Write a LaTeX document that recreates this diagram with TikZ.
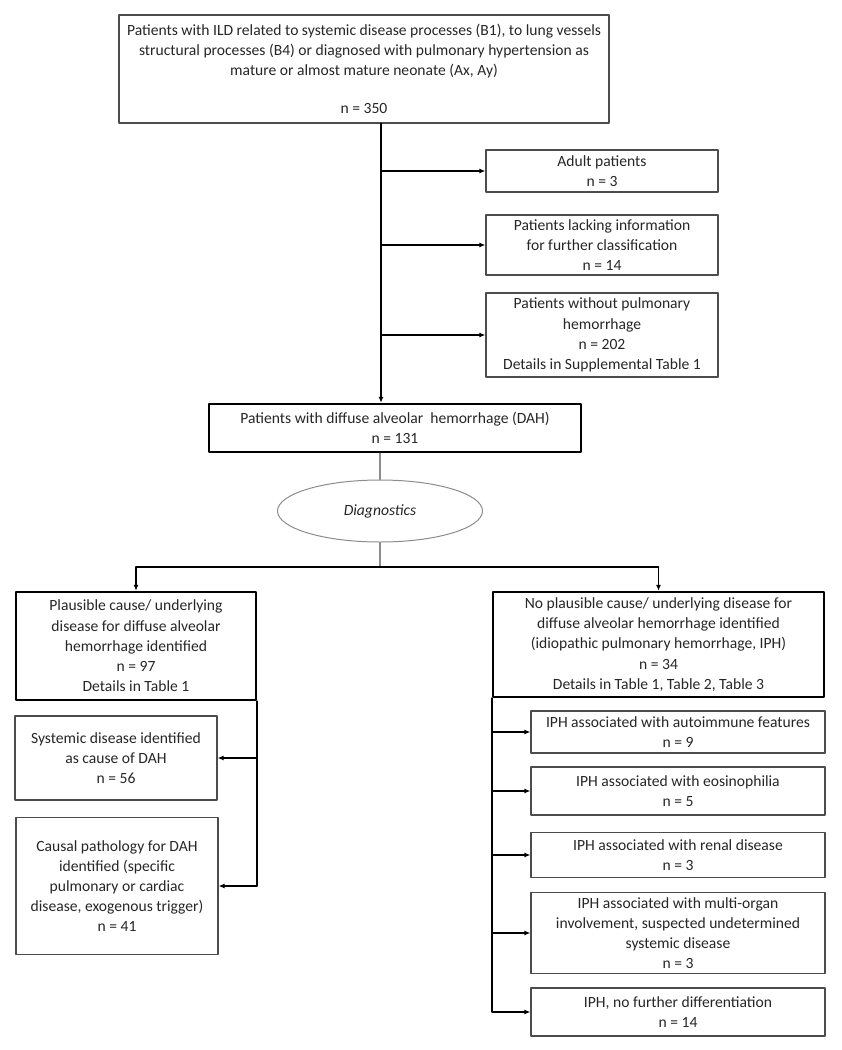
\documentclass[tikz,border=0pt]{standalone}
\usepackage{fontspec}
\setmainfont{Carlito}
\usepackage{tikz}
\usetikzlibrary{arrows.meta}
\usetikzlibrary{shapes.geometric}

\begin{document}
\begin{tikzpicture}[line cap=round,line join=round,x=1pt,y=-1pt,
  every node/.style={font=\fontsize{15.6}{20.2}\selectfont,text=black!85,align=center,inner sep=0pt},
  thinbox/.style={draw=black!70,line width=1.2pt,line cap=butt},
  thickbox/.style={draw=black,line width=2.4pt,line cap=butt},
  arr/.style={-{Latex[length=6pt,width=5pt]},line width=1.9pt},
  greyline/.style={draw=black!45,line width=1.2pt}]
\useasboundingbox (0,0) rectangle (842,1050);

% top part
\node[thinbox,minimum width=490,minimum height=108] (top) at (364,69)
  {Patients with ILD related to systemic disease processes (B1), to lung vessels\\
   structural processes (B4) or diagnosed with pulmonary hypertension as\\
   mature or almost mature neonate (Ax, Ay)\\[18pt]
   n = 350};
\node[thinbox,minimum width=232,minimum height=42] (adult) at (602,171)
  {Adult patients\\ n = 3};
\node[thinbox,minimum width=232,minimum height=60] (lack) at (602,245)
  {Patients lacking information\\ for further classification\\ n = 14};
\node[thinbox,minimum width=232,minimum height=84] (nohem) at (602,335)
  {Patients without pulmonary\\ hemorrhage\\ n = 202\\ Details in Supplemental Table 1};
\node[thickbox,minimum width=372,minimum height=48] (dah) at (395,428)
  {Patients with diffuse alveolar~ hemorrhage (DAH)\\ n = 131};
\node[ellipse,draw=black!45,line width=1pt,minimum width=205,minimum height=62] (diag) at (380,511)
  {\itshape Diagnostics};

\coordinate (spine) at (381,0);
\coordinate (split) at (0,567);

\draw[arr] (spine |- top.south) -- (spine |- dah.north);
\foreach \b in {adult,lack,nohem}
  \draw[arr] (spine |- \b.west) -- (\b.west);

\draw[greyline] (diag.north |- dah.south) -- (diag.north);
\draw[greyline] (diag.south) -- (diag.south |- split);

% left branch
\node[thickbox,minimum width=240,minimum height=108] (plaus) at (136,646)
  {Plausible cause/ underlying\\ disease for diffuse alveolar\\ hemorrhage identified\\ n = 97\\ Details in Table 1};
\node[thinbox,minimum width=202,minimum height=84] (syst) at (116,758)
  {Systemic disease identified\\ as cause of DAH\\ n = 56};
\node[thinbox,minimum width=202,minimum height=137] (causal) at (117,886)
  {Causal pathology for DAH\\ identified (specific\\ pulmonary or cardiac\\ disease, exogenous trigger)\\ n = 41};

% right branch
\node[thickbox,minimum width=331,minimum height=105] (nopl) at (658.5,644.5)
  {No plausible cause/ underlying disease for\\ diffuse alveolar hemorrhage identified\\
   (idiopathic pulmonary hemorrhage, IPH)\\ n = 34\\ Details in Table 1, Table 2, Table 3};
\node[thinbox,minimum width=294,minimum height=42] (autoim) at (678,732)
  {IPH associated with autoimmune features\\ n = 9};
\node[thinbox,minimum width=294,minimum height=48] (eosin) at (678,791)
  {IPH associated with eosinophilia\\ n = 5};
\node[thinbox,minimum width=294,minimum height=45] (renal) at (678,855)
  {IPH associated with renal disease\\ n = 3};
\node[thinbox,minimum width=294,minimum height=81] (multi) at (678,933)
  {IPH associated with multi-organ\\ involvement, suspected undetermined\\ systemic disease\\ n = 3};
\node[thinbox,minimum width=294,minimum height=48] (nofurth) at (678,1012)
  {IPH, no further differentiation\\ n = 14};

% split to both branches
\draw[line width=1.9pt] (plaus.north |- split) -- (nopl.north |- split);
\draw[arr] (plaus.north |- split) -- (plaus.north);
\draw[arr] (nopl.north |- split) -- (nopl.north);

\draw[arr] (plaus.south east) |- (causal.east);
\draw[arr] (plaus.south east |- syst.east) -- (syst.east);

\draw[arr] (nopl.south west) |- (nofurth.west);
\foreach \b in {autoim,eosin,renal,multi}
  \draw[arr] (nopl.south west |- \b.west) -- (\b.west);
\end{tikzpicture}
\end{document}
